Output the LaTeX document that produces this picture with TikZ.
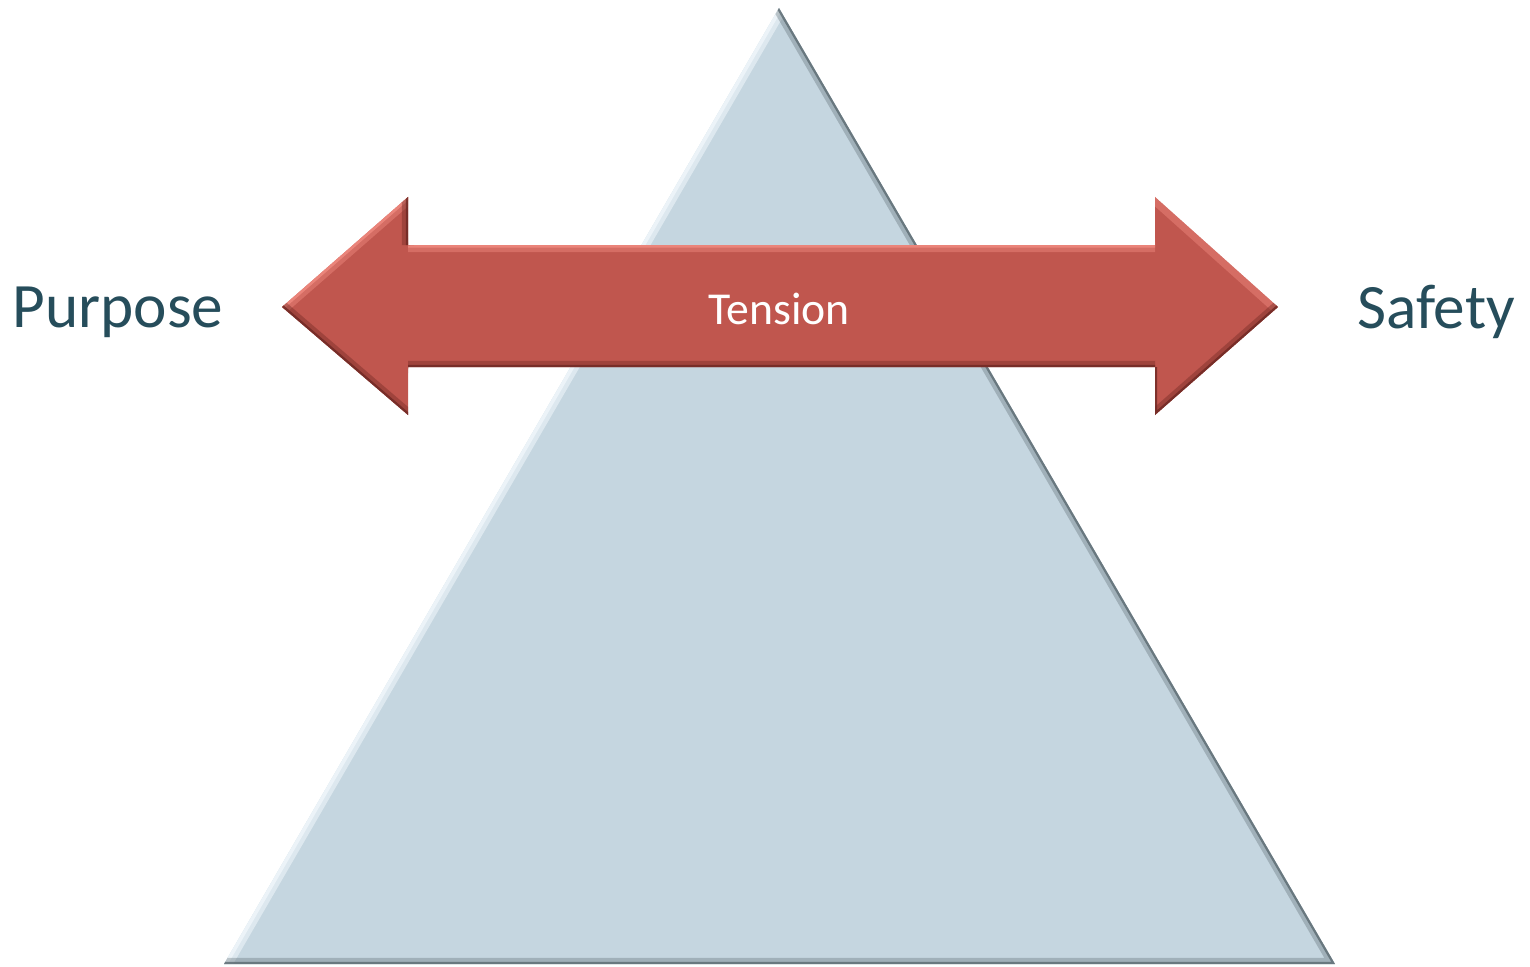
\documentclass[tikz,border=0pt]{standalone}
\usepackage{fontspec}
\setmainfont{Carlito}
\usetikzlibrary{positioning}

\definecolor{pyramidblue}{HTML}{C5D6E0}
\definecolor{pyramidlight}{HTML}{EEF5F9}
\definecolor{pyramiddark}{HTML}{5C6A71}
\definecolor{arrowred}{HTML}{C0564E}
\definecolor{arrowlight}{HTML}{F08A80}
\definecolor{arrowdark}{HTML}{6E2823}
\definecolor{labelteal}{HTML}{264D5B}

\begin{document}
\begin{tikzpicture}[x=0.02cm, y=-0.02cm]
    % Define styles
    \tikzstyle{pyramid} = [fill=pyramidblue]
    \tikzstyle{tensionarrow} = [fill=arrowred]
    \tikzstyle{sidelabel} = [text=labelteal, font=\fontsize{36}{40}\selectfont, inner sep=0pt]
    \tikzstyle{arrowlabel} = [text=white, font=\fontsize{26}{30}\selectfont, inner sep=0pt]

    \useasboundingbox (0,0) rectangle (1530,966);

    % Pyramid corners
    \coordinate (apex) at (779,8);
    \coordinate (baseL) at (224,964);
    \coordinate (baseR) at (1335,964);

    % Draw pyramid with bevelled edges
    \fill[pyramid] (apex) -- (baseL) -- (baseR) -- cycle;
    \begin{scope}
        \clip (apex) -- (baseL) -- (baseR) -- cycle;
        \draw[pyramidlight, line width=9pt, opacity=0.6] (baseL) -- (apex);
        \draw[pyramidlight, line width=4pt, opacity=0.9] (baseL) -- (apex);
        \draw[pyramiddark, line width=7pt, opacity=0.35] (apex) -- (baseR) -- (baseL);
        \draw[pyramiddark, line width=2.5pt, opacity=0.8] (apex) -- (baseR) -- (baseL);
    \end{scope}

    % Double arrow outline points
    \coordinate (tipL) at (282,307);
    \coordinate (tipR) at (1278,307);
    \coordinate (headLtop) at (408,197);
    \coordinate (headLbot) at (408,415);
    \coordinate (headRtop) at (1155,197);
    \coordinate (headRbot) at (1155,415);
    \coordinate (shaftLtop) at (408,245);
    \coordinate (shaftLbot) at (408,367);
    \coordinate (shaftRtop) at (1155,245);
    \coordinate (shaftRbot) at (1155,367);

    % Draw tension arrow with bevelled edges
    \fill[tensionarrow] (tipL) -- (headLtop) -- (shaftLtop) -- (shaftRtop) -- (headRtop)
        -- (tipR) -- (headRbot) -- (shaftRbot) -- (shaftLbot) -- (headLbot) -- cycle;
    \begin{scope}
        \clip (tipL) -- (headLtop) -- (shaftLtop) -- (shaftRtop) -- (headRtop)
            -- (tipR) -- (headRbot) -- (shaftRbot) -- (shaftLbot) -- (headLbot) -- cycle;
        \draw[arrowlight, line width=8pt, opacity=0.45] (tipL) -- (headLtop) (shaftLtop) -- (shaftRtop) (headRtop) -- (tipR);
        \draw[arrowlight, line width=3pt, opacity=0.8] (tipL) -- (headLtop) (shaftLtop) -- (shaftRtop);
        \draw[arrowdark, line width=7pt, opacity=0.4] (headLtop) -- (shaftLtop) (tipR) -- (headRbot) (shaftRbot) -- (shaftLbot) (headLbot) -- (tipL);
        \draw[arrowdark, line width=2.5pt, opacity=0.8] (headLtop) -- (shaftLtop) (tipR) -- (headRbot) -- (shaftRbot) (shaftRbot) -- (shaftLbot) (headLbot) -- (tipL);
    \end{scope}

    % Labels
    \node[arrowlabel] (tension) at (779,309) {Tension};
    \node[sidelabel] (purpose) at (118,312) {Purpose};
    \node[sidelabel] (safety) at (1436,312) {Safety};
\end{tikzpicture}
\end{document}
